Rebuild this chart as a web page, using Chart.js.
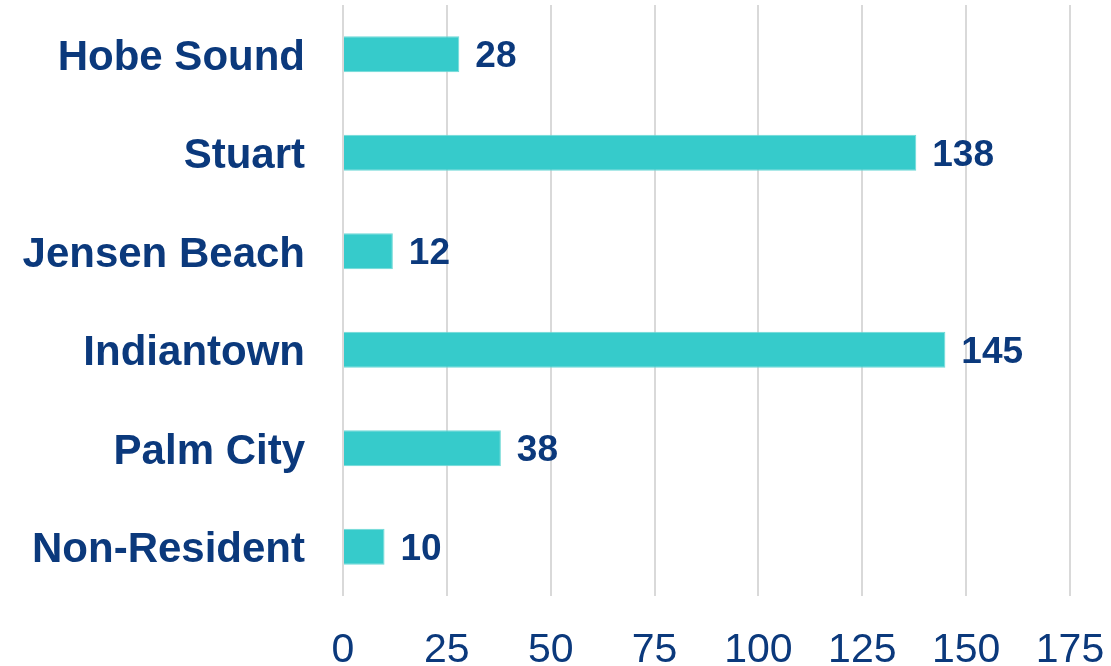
<!DOCTYPE html>
<html>
<head>
<meta charset="utf-8">
<script src="https://cdn.jsdelivr.net/npm/chart.js@4"></script>
<style>
  html, body { margin: 0; padding: 0; background: #fff; }
</style>
</head>
<body>
<canvas id="chart-residence" width="1111" height="666"></canvas>
<script>
const categories = ['Hobe Sound', 'Stuart', 'Jensen Beach', 'Indiantown', 'Palm City', 'Non-Resident'];
const counts = [28, 138, 12, 145, 38, 10];
const xTicks = [0, 25, 50, 75, 100, 125, 150, 175];

const navy = '#0B397C';

// draw the value next to the end of every bar
const barValues = {
    id: 'barValues',
    afterDatasetsDraw(chart) {
        const ctx = chart.ctx;
        ctx.save();
        ctx.font = 'bold 37px "Liberation Sans", Arial, sans-serif';
        ctx.fillStyle = navy;
        ctx.textAlign = 'left';
        ctx.textBaseline = 'middle';
        chart.getDatasetMeta(0).data.forEach(function (bar, i) {
            ctx.fillText(counts[i], bar.x + 16, bar.y + 3);
        });
        ctx.restore();
    }
};

new Chart(document.getElementById('chart-residence'), {
    type: 'bar',
    data: {
        labels: categories,
        datasets: [{
            data: counts,
            backgroundColor: '#36CBCB',
            borderColor: '#6FD9D6',
            borderWidth: 1,
            categoryPercentage: 1,
            barPercentage: 0.366
        }]
    },
    options: {
        indexAxis: 'y',
        responsive: false,
        animation: false,
        devicePixelRatio: 1,
        layout: {
            padding: { top: 5, right: 41, bottom: 0, left: 0 }
        },
        plugins: {
            legend: { display: false },
            tooltip: { enabled: false }
        },
        scales: {
            x: {
                min: 0,
                max: 175,
                afterBuildTicks(scale) {
                    scale.ticks = xTicks.map(v => ({ value: v }));
                },
                afterFit(scale) {
                    scale.height = 70;
                    scale.paddingLeft = 0;
                    scale.paddingRight = 0;
                },
                grid: {
                    color: '#D9D9D9',
                    lineWidth: 2,
                    drawTicks: false
                },
                border: { display: false },
                ticks: {
                    color: navy,
                    padding: 34,
                    maxRotation: 0,
                    font: { family: '"Liberation Sans", Arial, sans-serif', size: 41, lineHeight: 1 }
                }
            },
            y: {
                afterFit(scale) {
                    scale.width = 343;
                    scale.paddingTop = 0;
                    scale.paddingBottom = 0;
                },
                grid: { display: false, drawTicks: false },
                border: { display: false },
                ticks: {
                    color: navy,
                    padding: 38,
                    labelOffset: 4,
                    font: { family: '"Liberation Sans", Arial, sans-serif', size: 42, weight: 'bold' }
                }
            }
        }
    },
    plugins: [barValues]
});
</script>
</body>
</html>
